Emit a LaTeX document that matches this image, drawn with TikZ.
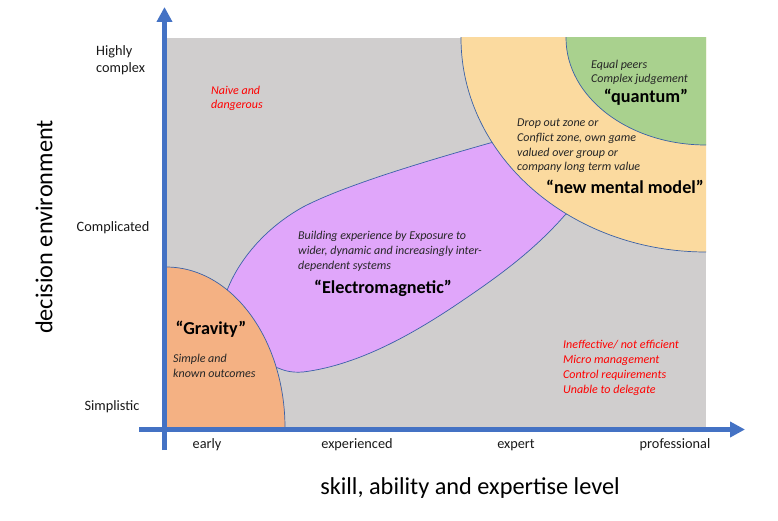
\documentclass[tikz,border=0pt]{standalone}
\usepackage{fontspec}
\setmainfont{Carlito}
\usetikzlibrary{arrows.meta}
\definecolor{axisblue}{HTML}{4472C4}
\definecolor{bggray}{HTML}{D0CECE}
\definecolor{gravorange}{HTML}{F4B183}
\definecolor{empurple}{HTML}{E0A6FA}
\definecolor{mmpeach}{HTML}{FBDA9F}
\definecolor{qgreen}{HTML}{A9D18E}
\tikzset{
  axisline/.style={draw=axisblue, line width=4.5pt, -{Triangle[width=15pt,length=15pt]}},
  zoneline/.style={draw=axisblue!85!black, line width=0.7pt},
  ticklabel/.style={font=\fontsize{14.3}{16.5}\selectfont, text=black!90, inner sep=0pt, align=left},
  axistitle/.style={font=\fontsize{24.3}{28}\selectfont, text=black, inner sep=0pt},
  note/.style={font=\fontsize{12}{14.8}\selectfont\itshape, text=black!85, inner sep=0pt, align=left, anchor=base west},
  rednote/.style={note, text=red},
  zonetitle/.style={font=\fontsize{18.2}{21}\selectfont\bfseries, text=black, inner sep=0pt},
}
\begin{document}
\begin{tikzpicture}[x=1pt,y=-1pt]
\useasboundingbox (0,0) rectangle (778,521);
% background
\fill[bggray] (166,38) rectangle (706,428);
\begin{scope}
\clip (166,38) rectangle (706,428);
% electromagnetic zone
\filldraw[fill=empurple, zoneline]
  (240,355) -- (212,328) -- (228,288)
  .. controls (236,268) and (258,232) .. (303,207)
  .. controls (345,185) and (430,160) .. (490,143)
  -- (540,132) -- (610,190) -- (565,215)
  .. controls (530,255) and (490,282) .. (453,307)
  .. controls (415,332) and (360,365) .. (303,372)
  .. controls (290,373) and (283,370) .. (278,368)
  -- cycle;
% new mental model zone
\filldraw[fill=mmpeach, zoneline] (706,38) ellipse[x radius=245pt, y radius=214pt];
% quantum zone
\filldraw[fill=qgreen, zoneline] (706,38) ellipse[x radius=140pt, y radius=107pt];
% gravity zone
\filldraw[fill=gravorange, zoneline] (166,428) ellipse[x radius=119pt, y radius=161pt];
\end{scope}
% axes
\coordinate (yfoot) at (164.5,450);
\coordinate (ytip) at (164.5,7);
\coordinate (xfoot) at (139,429.5);
\coordinate (xtip) at (745,429.5);
\draw[axisline] (yfoot) -- (ytip);
\draw[axisline] (xfoot) -- (xtip);
% y tick labels
\node[ticklabel, anchor=base west] (hc) at (96,72.5) {Highly\\complex};
\node[ticklabel, anchor=base] (cp) at (113,232) {Complicated};
\node[ticklabel, anchor=base] (sp) at (112,410) {Simplistic};
% x tick labels
\node[ticklabel, anchor=base] (xe) at (207,448) {early};
\node[ticklabel, anchor=base] (xx) at (357,448) {experienced};
\node[ticklabel, anchor=base] (xp) at (516,448) {expert};
\node[ticklabel, anchor=base] (xr) at (675,448) {professional};
% axis titles
\node[axistitle, rotate=90] (yt) at (44,227) {decision environment};
\node[axistitle] (xt) at (470,488) {skill, ability and expertise level};
% zone texts
\node[rednote] (naive) at (211,109) {Naive and\\dangerous};
\node[zonetitle] (grav) at (211,329) {“Gravity”};
\node[note] (gravtxt) at (173,377) {Simple and\\known outcomes};
\node[note] (emtxt) at (298,269) {Building experience by Exposure to\\wider, dynamic and increasingly inter-\\dependent systems};
\node[zonetitle] (em) at (383,288) {“Electromagnetic”};
\node[note] (mmtxt) at (517,171) {Drop out zone or\\Conflict zone, own game\\valued over group or\\company long term value};
\node[zonetitle] (mm) at (625,187) {“new mental model”};
\node[note] (qtxt) at (591,83) {Equal peers\\Complex judgement};
\node[zonetitle] (q) at (646,97) {“quantum”};
\node[rednote] (ineff) at (563,393) {Ineffective/ not efficient\\Micro management\\Control requirements\\Unable to delegate};
\end{tikzpicture}
\end{document}
